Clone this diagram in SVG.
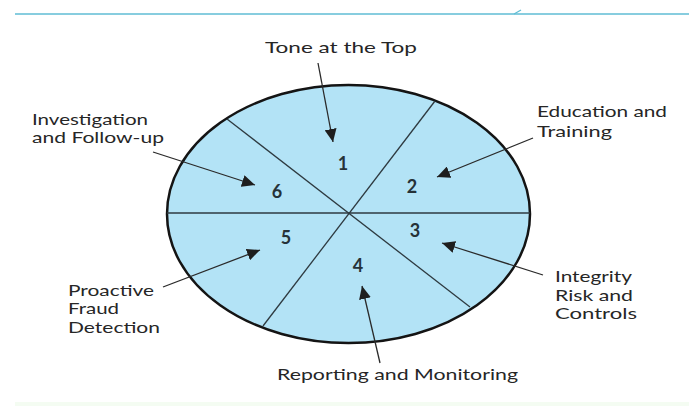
<svg xmlns="http://www.w3.org/2000/svg" width="689" height="406" viewBox="0 0 689 406">
  <style>
    .lbl { font-family: Lato, "Open Sans", "Liberation Sans", sans-serif; font-size: 16px; fill: #262626; }
    .num { font-family: Lato, "Open Sans", "Liberation Sans", sans-serif; font-size: 18px; font-weight: bold; fill: #263238; text-anchor: middle; }
    .spoke { stroke: #2e3a40; stroke-width: 1.3; fill: none; }
    .arrow { stroke: #2a2a2a; stroke-width: 1.3; fill: none; marker-end: url(#head); }
  </style>
  <defs>
    <marker id="head" markerUnits="userSpaceOnUse" markerWidth="14" markerHeight="12" refX="13" refY="6" orient="auto">
      <path d="M0,0 L13,6 L0,12 Z" fill="#1e1e1e"/>
    </marker>
  </defs>

  <rect width="689" height="406" fill="#ffffff"/>
  <!-- header rule and footer band -->
  <line x1="15" y1="14" x2="689" y2="14" stroke="#5fbdd4" stroke-width="1.6"/>
  <line x1="514" y1="14" x2="521" y2="10" stroke="#5fbdd4" stroke-width="1.2"/>
  <rect x="15" y="402" width="674" height="4" fill="#f4fcf2"/>

  <!-- wheel -->
  <g id="wheel">
    <ellipse cx="348.5" cy="214" rx="181.5" ry="129" fill="#b3e3f6" stroke="#141414" stroke-width="2.5"/>
    <line class="spoke" x1="167" y1="213" x2="530" y2="213"/>
    <line class="spoke" x1="435" y1="101" x2="263" y2="326"/>
    <line class="spoke" x1="227" y1="119" x2="470" y2="307"/>
  </g>

  <g id="segment-numbers">
    <text class="num" x="343" y="170">1</text>
    <text class="num" x="412" y="193">2</text>
    <text class="num" x="415" y="237">3</text>
    <text class="num" x="358" y="272">4</text>
    <text class="num" x="286" y="244">5</text>
    <text class="num" x="277" y="198">6</text>
  </g>

  <!-- connectors -->
  <g id="connectors">
    <line class="arrow" x1="318" y1="63" x2="333" y2="142"/>
    <line class="arrow" x1="533" y1="138" x2="437" y2="177"/>
    <line class="arrow" x1="543" y1="275" x2="442" y2="243"/>
    <line class="arrow" x1="380" y1="363" x2="362" y2="286"/>
    <line class="arrow" x1="163" y1="287" x2="260" y2="250"/>
    <line class="arrow" x1="153" y1="152" x2="255" y2="185"/>
  </g>

  <g id="tone-at-the-top">
    <text class="lbl" x="265" y="53" textLength="152" lengthAdjust="spacingAndGlyphs">Tone at the Top</text>
  </g>
  <g id="education-and-training">
    <text class="lbl" x="537" y="117" textLength="130" lengthAdjust="spacingAndGlyphs">Education and</text>
    <text class="lbl" x="537" y="137" textLength="75" lengthAdjust="spacingAndGlyphs">Training</text>
  </g>
  <g id="integrity-risk-and-controls">
    <text class="lbl" x="555" y="282" textLength="77" lengthAdjust="spacingAndGlyphs">Integrity</text>
    <text class="lbl" x="555" y="301" textLength="78" lengthAdjust="spacingAndGlyphs">Risk and</text>
    <text class="lbl" x="555" y="319" textLength="82" lengthAdjust="spacingAndGlyphs">Controls</text>
  </g>
  <g id="reporting-and-monitoring">
    <text class="lbl" x="277" y="380" textLength="241" lengthAdjust="spacingAndGlyphs">Reporting and Monitoring</text>
  </g>
  <g id="proactive-fraud-detection">
    <text class="lbl" x="68" y="296" textLength="86" lengthAdjust="spacingAndGlyphs">Proactive</text>
    <text class="lbl" x="68" y="314" textLength="51" lengthAdjust="spacingAndGlyphs">Fraud</text>
    <text class="lbl" x="68" y="333" textLength="92" lengthAdjust="spacingAndGlyphs">Detection</text>
  </g>
  <g id="investigation-and-follow-up">
    <text class="lbl" x="32" y="125" textLength="116" lengthAdjust="spacingAndGlyphs">Investigation</text>
    <text class="lbl" x="32" y="143" textLength="132" lengthAdjust="spacingAndGlyphs">and Follow-up</text>
  </g>
</svg>
